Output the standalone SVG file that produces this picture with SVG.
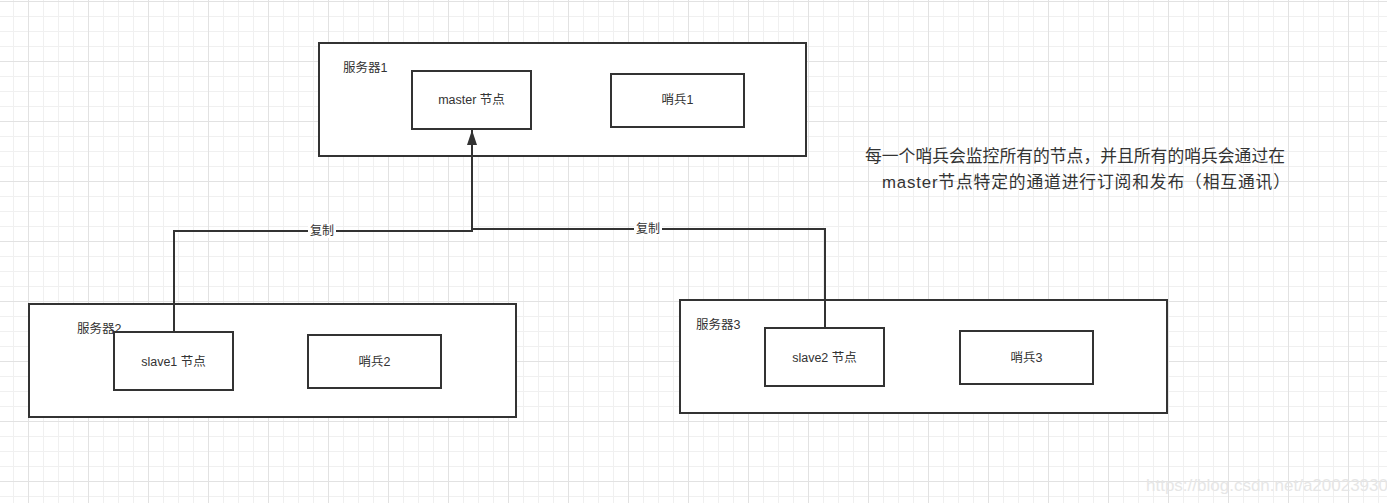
<svg xmlns="http://www.w3.org/2000/svg" width="1387" height="503" viewBox="0 0 1387 503">
<style>
.box{fill:#fff;stroke:#333;stroke-width:2}
.t{font-family:"Liberation Sans","Noto Sans CJK SC",sans-serif;font-size:12.5px;fill:#333}
.c{text-anchor:middle}
.conn{fill:none;stroke:#333;stroke-width:2}
.lbl{font-family:"Liberation Sans","Noto Sans CJK SC",sans-serif;font-size:12px;fill:#333;text-anchor:middle}
.note{font-family:"Liberation Sans","Noto Sans CJK SC",sans-serif;font-size:16.8px;fill:#333}
</style>
<defs>
<pattern id="grid" x="28" y="1" width="60" height="60" patternUnits="userSpaceOnUse">
<rect x="15" y="0" width="1" height="60" fill="#f0f0f0"/>
<rect x="30" y="0" width="1" height="60" fill="#f0f0f0"/>
<rect x="45" y="0" width="1" height="60" fill="#f0f0f0"/>
<rect x="0" y="15" width="60" height="1" fill="#f0f0f0"/>
<rect x="0" y="30" width="60" height="1" fill="#f0f0f0"/>
<rect x="0" y="45" width="60" height="1" fill="#f0f0f0"/>
<rect x="0" y="0" width="1" height="60" fill="#e2e2e2"/>
<rect x="0" y="0" width="60" height="1" fill="#e2e2e2"/>
</pattern>
<marker id="arr" markerWidth="15" markerHeight="10" refX="15" refY="5" orient="auto" markerUnits="userSpaceOnUse" viewBox="0 0 15 10">
<path d="M0,0 L15,5 L0,10 Z" fill="#333"/>
</marker>
</defs>
<rect width="1387" height="503" fill="#fff"/>
<rect width="1387" height="503" fill="url(#grid)"/>

<g id="server1">
<rect class="box" x="319" y="43" width="487" height="113"/>
<text class="t" x="343" y="72">服务器1</text>
</g>
<g id="master">
<rect class="box" x="412" y="71" width="119" height="58"/>
<text class="t c" x="471.5" y="104">master 节点</text>
</g>
<g id="sentinel1">
<rect class="box" x="611" y="74" width="133" height="53"/>
<text class="t c" x="677.5" y="104">哨兵1</text>
</g>

<g id="server2">
<rect class="box" x="29" y="304" width="487" height="113"/>
<text class="t" x="77" y="333">服务器2</text>
</g>
<g id="slave1">
<rect class="box" x="114" y="332" width="119" height="58"/>
<text class="t c" x="173.5" y="366">slave1 节点</text>
</g>
<g id="sentinel2">
<rect class="box" x="308" y="335" width="133" height="53"/>
<text class="t c" x="374.5" y="366">哨兵2</text>
</g>

<g id="server3">
<rect class="box" x="680" y="300" width="487" height="113"/>
<text class="t" x="696" y="329">服务器3</text>
</g>
<g id="slave2">
<rect class="box" x="765" y="328" width="119" height="58"/>
<text class="t c" x="824.5" y="362">slave2 节点</text>
</g>
<g id="sentinel3">
<rect class="box" x="960" y="331" width="133" height="53"/>
<text class="t c" x="1026.5" y="362">哨兵3</text>
</g>

<g id="connectors">
<path class="conn" d="M174,332 V231 H472 V130" marker-end="url(#arr)"/>
<path class="conn" d="M825,328 V229 H472"/>
<rect x="308" y="224" width="28" height="14" fill="#fff"/>
<text class="lbl" x="322" y="235">复制</text>
<rect x="634" y="222" width="28" height="14" fill="#fff"/>
<text class="lbl" x="648" y="233">复制</text>
</g>

<g id="note">
<text class="note" x="865" y="162" textLength="420" lengthAdjust="spacing">每一个哨兵会监控所有的节点，并且所有的哨兵会通过在</text>
<text class="note" x="882" y="188" textLength="408" lengthAdjust="spacing">master节点特定的通道进行订阅和发布（相互通讯）</text>
</g>
<text x="1267" y="491" font-family="Liberation Sans, sans-serif" font-size="17" fill="#e6e6e6" text-anchor="middle">https://blog.csdn.net/a20023930</text>
</svg>
